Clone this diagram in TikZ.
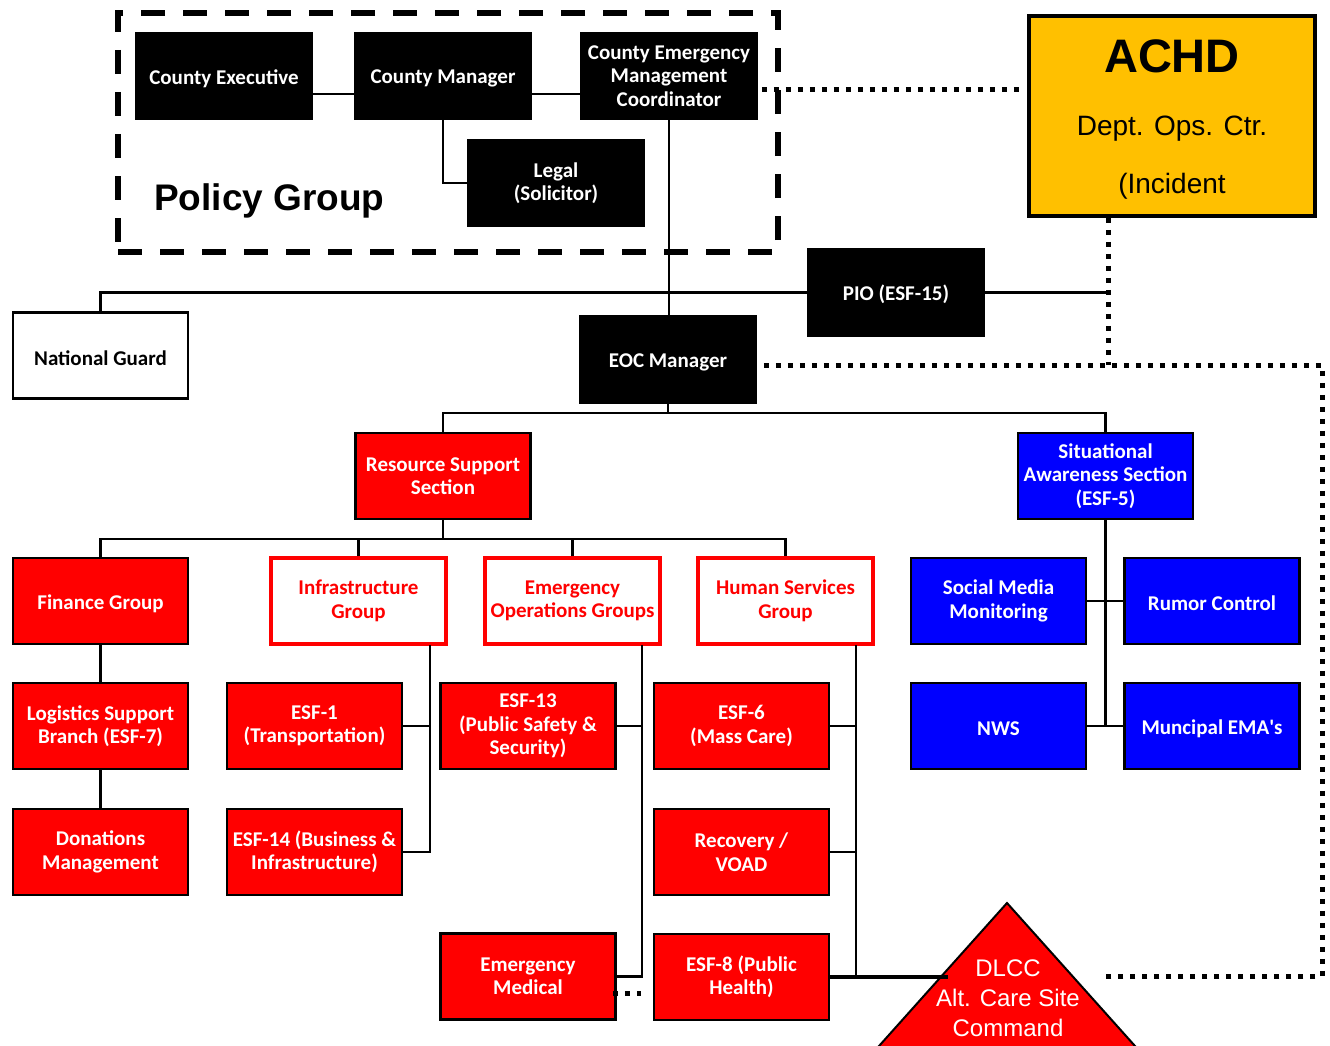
\documentclass[tikz,border=0pt]{standalone}
\usepackage{fontspec}
\setmainfont{Carlito}
\newfontfamily\arialf{Liberation Sans}
\newcommand\boxfont{\fontsize{21}{23.5}\selectfont\bfseries}
\definecolor{eocred}{HTML}{FF0000}
\definecolor{eocblue}{HTML}{0000FF}
\definecolor{achdyellow}{HTML}{FFC000}
\tikzset{
  conn/.style={line width=2.2pt, draw=black},
  thickconn/.style={line width=4pt, draw=black},
  dotline/.style={line width=5pt, dash pattern=on 5pt off 7pt, draw=black},
  basebox/.style={rectangle, minimum width=175pt, minimum height=86pt, inner sep=1pt, align=center, font=\boxfont, line width=2.5pt, execute at begin node={\rule{0pt}{19.5pt}}},
  blackbox/.style={basebox, fill=black, draw=black, text=white},
  redbox/.style={basebox, fill=eocred, draw=black, text=white},
  bluebox/.style={basebox, fill=eocblue, draw=black, text=white},
  outbox/.style={basebox, fill=white, draw=eocred, line width=3.5pt, text=eocred},
  whitebox/.style={basebox, fill=white, draw=black, text=black},
  policybox/.style={rectangle, draw=black, line width=5.5pt, dash pattern=on 24pt off 18pt, minimum width=660pt, minimum height=239pt, inner sep=0pt},
}
\begin{document}
\begin{tikzpicture}[x=1pt,y=-1pt]
\useasboundingbox (0,0) rectangle (1330,1046);
\clip (0,0) rectangle (1330,1046);

% Policy group frame
\node[policybox] (pg) at (448,132.5) {};
\node[anchor=west, inner sep=0pt, font=\arialf\fontsize{37}{40}\selectfont\bfseries] (pgtext) at (154,201) {Policy Group};

% Top black boxes
\node[blackbox] (ce) at (224,76) {County Executive};
\node[blackbox] (cm) at (443,76) {County Manager};
\node[blackbox] (cemc) at (669,76) {County Emergency\\Management\\Coordinator};
\node[blackbox] (legal) at (556,183) {Legal\\(Solicitor)};

% ACHD
\node[rectangle, draw=black, line width=3.5pt, fill=achdyellow, minimum width=286pt, minimum height=200pt] (achd) at (1172,116) {};
\node[font=\arialf\fontsize{47}{50}\selectfont\bfseries, inner sep=0pt] (achd1) at (1172,56) {ACHD};
\node[font=\arialf\fontsize{28}{30}\selectfont, inner sep=0pt] (achd2) at (1172,129) {Dept. Ops. Ctr.};
\node[font=\arialf\fontsize{28}{30}\selectfont, inner sep=0pt] (achd3) at (1172,186) {(Incident};

\node[blackbox] (pio) at (896,292.5) {PIO (ESF-15)};
\node[whitebox] (ng) at (100.5,355.5) {National Guard};
\node[blackbox] (eoc) at (668,359.5) {EOC Manager};

% Sections
\node[redbox] (rss) at (443,476) {Resource Support\\Section};
\node[bluebox] (sas) at (1105.5,476) {Situational\\Awareness Section\\(ESF-5)};

% Groups
\node[redbox] (fin) at (100.5,601) {Finance Group};
\node[outbox] (infra) at (358.5,601) {Infrastructure\\Group};
\node[outbox] (eog) at (572.5,601) {Emergency\\Operations Groups};
\node[outbox] (hs) at (785.5,601) {Human Services\\Group};
\node[bluebox] (smm) at (998.5,601) {Social Media\\Monitoring};
\node[bluebox] (rumor) at (1212,601) {Rumor Control};

\node[redbox] (log) at (100.5,726) {Logistics Support\\Branch (ESF-7)};
\node[redbox] (esf1) at (314.5,726) {ESF-1\\(Transportation)};
\node[redbox] (esf13) at (528,726) {ESF-13\\(Public Safety \&\\Security)};
\node[redbox] (esf6) at (741.5,726) {ESF-6\\(Mass Care)};
\node[bluebox] (nws) at (998.5,726) {NWS};
\node[bluebox] (ema) at (1212,726) {Muncipal EMA\textquotesingle s};

\node[redbox] (don) at (100.5,852) {Donations\\Management};
\node[redbox] (esf14) at (314.5,852) {ESF-14 (Business \&\\Infrastructure)};
\node[redbox] (rec) at (741.5,852) {Recovery /\\VOAD};

\node[redbox] (em) at (528,976.5) {Emergency\\Medical};
\node[redbox] (esf8) at (741.5,977) {ESF-8 (Public\\Health)};

% DLCC triangle
\fill[eocred, draw=black, line width=2pt] (1007,903) -- (866.5,1060) -- (1147.5,1060) -- cycle;
\node[align=center, text=white, font=\arialf\fontsize{24}{30}\selectfont, inner sep=0pt] (dlcc) at (1008,998) {DLCC\\Alt. Care Site\\Command};
\coordinate (tri) at (948,977);

% Coordinates
\coordinate (j1) at (1108,365);
\coordinate (cd) at (1020,90);
\coordinate (dr1) at (1322,365);
\coordinate (dr2) at (1322,976);
\coordinate (dr3) at (1103,976);
\coordinate (ib) at (430,645);
\coordinate (eb) at (642,645);
\coordinate (hb) at (856,645);
\coordinate (emdot) at (641,993);

% Policy connectors
\draw[conn] ([yshift=-18pt]ce.east) -- ([yshift=-18pt]cm.west);
\draw[conn] ([yshift=-18pt]cm.east) -- ([yshift=-18pt]cemc.west);
\draw[conn] (cm.south) |- (legal.west);
\draw[conn] (cemc.south) -- (cemc.south |- eoc.north);
\draw[conn] (pio.west) -| (ng.north);
\draw[conn] (pio.east) -- (pio.east -| j1);

% EOC tree
\draw[conn] (eoc.south) -- ++(0,10);
\draw[conn] (rss.north) -- ++(0,-19) -| (sas.north);
\draw[conn] (rss.south) -- ++(0,19);
\draw[conn] (fin.north) -- ++(0,-18) -| (hs.north);
\draw[conn] (infra.north) -- ++(0,-18);
\draw[conn] (eog.north) -- ++(0,-18);
\draw[conn] (fin.south) -- (log.north);
\draw[conn] (log.south) -- (don.north);
\draw[conn] (ib) |- (esf14.east);
\draw[conn] (esf1.east) -- (esf1.east -| ib);
\draw[conn] (eb) |- (em.east);
\draw[conn] (esf13.east) -- (esf13.east -| eb);
\draw[conn] (hb) |- (esf8.east);
\draw[conn] (esf6.east) -- (esf6.east -| hb);
\draw[conn] (rec.east) -- (rec.east -| hb);
\draw[thickconn] (esf8.east) -- (tri);
\draw[conn] (sas.south) -- (sas.south |- nws.east);
\draw[conn] (smm.east) -- (rumor.west);
\draw[conn] (nws.east) -- (ema.west);

% Dotted links
\draw[dotline] ([xshift=4pt,yshift=-14pt]cemc.east) -- (cd);
\draw[dotline] (achd.south -| j1) -- (j1);
\draw[dotline] ([xshift=7pt,yshift=-5.5pt]eoc.east) -- (dr1) -- (dr2) -- (dr3);
\draw[dotline] ([xshift=-4pt,yshift=-16.5pt]em.east) -- (emdot);
\end{tikzpicture}
\end{document}
